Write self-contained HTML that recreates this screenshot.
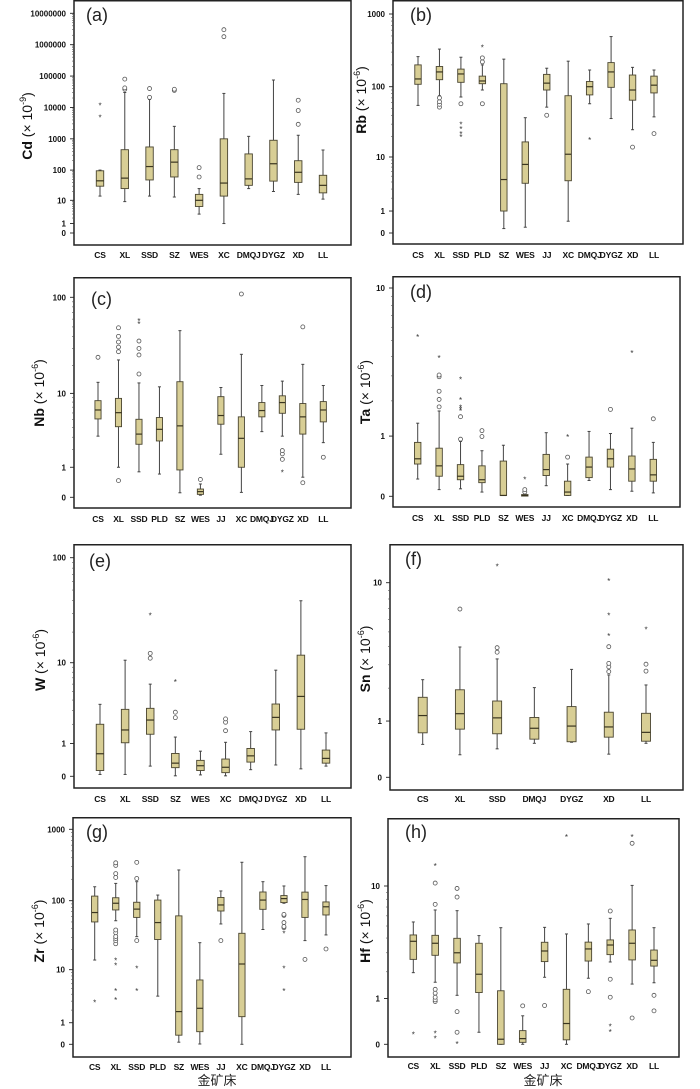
<!DOCTYPE html>
<html><head><meta charset="utf-8"><style>
html,body{margin:0;padding:0;background:#fff;}
svg{display:block;}
text{font-family:"Liberation Sans","Noto Sans CJK SC",sans-serif;}
</style></head><body>
<svg id="chart" width="700" height="1089" viewBox="0 0 700 1089" xmlns="http://www.w3.org/2000/svg"></svg>
<script>
// ---- data: panel (a) Cd ----
const aCats=["CS","XL","SSD","SZ","WES","XC","DMQJ","DYGZ","XD","LL"];
const aLow=[14,9,14,13,3,1,25,20,16,11];
const aQ1=[30,25,48,60,6,14,32,44,40,18];
const aMed=[45,55,130,180,10,38,52,160,85,32];
const aQ3=[95,450,550,450,16,1000,330,900,200,68];
const aHigh=[100,30000,18000,2500,25,28000,1200,75000,1300,440];
const aCirc=[[],[38000,42000,80000],[21000,40000],[35000,38000],[60,120],[1800000,3000000],[],[],[2900,8000,17000],[]];
const aStar=[[5000,12000],[],[],[],[],[],[],[],[],[]];
// ---- panel (b) Rb ----
const bCats=["CS","XL","SSD","PLD","SZ","WES","JJ","XC","DMQJ","DYGZ","XD","LL"];
const bLow=[55,75,72,90,0.15,0.2,52,0.45,58,36,25,38];
const bQ1=[108,125,115,110,1,3.8,90,4.2,77,98,65,82];
const bMed=[128,160,150,120,4.4,7.7,112,11,100,160,90,105];
const bQ3=[200,190,175,140,110,16.7,148,75,118,215,145,140];
const bHigh=[260,330,255,200,240,37,180,225,170,490,185,170];
const bCirc=[[],[52,57,62,70],[58],[58,220,250],[],[],[40],[],[],[],[14],[22]];
const bStar=[[],[],[20,22,26,30],[350],[],[],[],[],[18],[],[],[]];
// ---- panel (c) Nb ----
const cCats=["CS","XL","SSD","PLD","SZ","WES","JJ","XC","DMQJ","DYGZ","XD","LL"];
const cLow=[3.1,1.0,0.8,0.71,0.11,0.05,1.7,0.12,3.55,3.1,0.59,2.53];
const cQ1=[5.1,4.1,2.4,2.67,0.88,0.07,4.4,1.0,5.4,5.95,3.3,4.7];
const cMed=[6.5,6.05,3.3,3.8,4.2,0.14,5.6,2.9,6.4,7.9,5.4,6.5];
const cQ3=[8.3,8.8,5.05,5.3,13.4,0.21,9.2,5.4,7.9,9.4,7.7,8.1];
const cHigh=[13.2,22.8,13,11.8,45.8,0.36,11.6,26.1,12.2,13.6,20.5,12.2];
const cCirc=[[24.3],[0.47,27.8,31,35,40,49],[16.2,25.7,30,35.8],[],[],[0.51],[],[108],[],[1.4,1.72,1.94],[0.4,50],[1.52]];
const cStar=[[],[],[54,58],[],[],[],[],[],[],[0.8],[],[]];
// ---- panel (d) Ta ----
const dCats=["CS","XL","SSD","PLD","SZ","WES","JJ","XC","DMQJ","DYGZ","XD","LL"];
const dLow=[0.22,0.08,0.09,0.05,0.01,0.005,0.13,0.01,0.2,0.08,0.06,0.04];
const dQ1=[0.45,0.26,0.21,0.17,0.01,0.01,0.27,0.01,0.24,0.4,0.19,0.19];
const dMed=[0.54,0.42,0.26,0.21,0.01,0.01,0.36,0.05,0.4,0.54,0.37,0.28];
const dQ3=[0.86,0.74,0.44,0.42,0.5,0.02,0.62,0.19,0.57,0.72,0.59,0.53];
const dHigh=[1.32,1.67,0.88,0.69,0.8,0.03,1.08,0.45,1.11,1.06,1.19,0.86];
const dCirc=[[],[1.8,2.05,2.35,2.96,3.04],[0.93,1.5],[0.99,1.13],[],[0.05,0.08],[],[0.57],[],[1.72],[],[1.44]];
const dStar=[[5.3],[3.95],[1.68,1.73,1.8,2.05,2.86],[],[],[0.22],[],[0.99],[],[],[4.23],[]];
// ---- panel (e) W ----
const eCats=["CS","XL","SSD","SZ","WES","XC","DMQJ","DYGZ","XD","LL"];
const eLow=[0.04,0.04,0.24,0.01,0.03,0.01,0.15,0.27,0.17,0.24];
const eQ1=[0.13,1.03,1.43,0.2,0.13,0.08,0.35,1.66,1.7,0.32];
const eMed=[0.61,1.66,2.28,0.32,0.25,0.21,0.54,2.47,4.4,0.46];
const eQ3=[2.0,3.11,3.2,0.62,0.4,0.44,0.8,3.6,11.9,0.74];
const eHigh=[3.57,10.6,6.0,1.29,0.7,1.05,1.57,8.4,39.7,1.5];
const eCirc=[[],[],[11.1,12.4],[2.45,2.87],[],[1.62,2.13,2.36],[],[],[],[]];
const eStar=[[],[],[29],[6.4],[],[],[],[],[],[]];
// ---- panel (f) Sn ----
const fCats=["CS","XL","SSD","DMQJ","DYGZ","XD","LL"];
const fLow=[0.5,0.32,0.42,0.52,0.54,0.33,0.52];
const fQ1=[0.73,0.81,0.71,0.6,0.55,0.64,0.56];
const fMed=[1.14,1.19,1.08,0.83,0.88,0.86,0.74];
const fQ3=[1.68,1.94,1.56,1.09,1.39,1.23,1.2];
const fHigh=[2.33,3.98,3.3,2.02,2.78,2.53,2.12];
const fCirc=[[],[6.95],[3.67,3.94],[],[],[2.68,2.9,3.07,4.0],[2.7,3.03]];
const fStar=[[],[],[12.5],[],[],[4.73,6.39,10.3],[5.2]];
// ---- panel (g) Zr ----
const gCats=["CS","XL","SSD","PLD","SZ","WES","JJ","XC","DMQJ","DYGZ","XD","LL"];
const gLow=[14,52,30.8,3.7,0.07,0.01,46.8,0,39,92,27,32.6];
const gQ1=[50,74,58,28,0.34,0.5,71.5,1.43,75.5,94,58,62.8];
const gMed=[68,92,76,49,1.86,2.18,87,12.2,102,107,104,82];
const gQ3=[116,110,95,102,61,6.9,111,34.4,132.5,118,132,96];
const gHigh=[157,175,185,120,270,25.2,137,346,185,161,414,163];
const gCirc=[[],[24.3,27,29,31,35,38.4,212,240,313,340],[27,205,345],[],[],[],[27],[],[],[41.5,43,49,62,64],[14.3],[20.4]];
const gStar=[[2.9],[3.2,4.6,11.8,14],[4.6,10.7],[],[],[],[],[],[],[4.6,10.6,35],[],[]];
// ---- panel (h) Hf ----
const hCats=["CS","XL","SSD","PLD","SZ","WES","JJ","XC","DMQJ","DYGZ","XD","LL"];
const hLow=[1.96,1.56,1.1,0.2,0,0,1.76,0,1.72,2.48,1.49,1.54];
const hQ1=[2.62,2.85,2.43,1.19,0,0.03,2.5,0.07,2.53,2.89,2.59,2.27];
const hMed=[3.76,3.62,3.0,1.89,0.08,0.09,3.11,0.37,3.24,3.5,3.62,2.57];
const hQ3=[4.24,4.21,3.98,3.62,1.25,0.23,3.69,1.3,3.7,3.86,4.65,3.17];
const hHigh=[5.38,6.65,6.57,4.19,4.85,0.54,4.88,4.32,5.19,5.74,10.1,4.85];
const hCirc=[[],[0.91,0.96,1.04,1.17,1.3,7.33,10.5],[0.2,0.64,8.3,9.6],[],[],[0.79],[0.8],[],[1.22],[1.04,1.68,6.53],[0.49,20],[0.66,1.1]];
const hStar=[[0.17],[0.1,0.19,14],[0.01],[],[],[],[],[22.2],[],[0.21,0.32],[22.2],[]];
// tick values
const aTicks=[0,1,10,100,1000,10000,100000,1000000,10000000];
const bTicks=[0,1,10,100,1000];
const cTicks=[0,1,10,100];
const dTicks=[0,1,10];
const eTicks=[0,1,10,100];
const fTicks=[0,1,10];
const gTicks=[0,1,10,100,1000];
const hTicks=[0,1,10];

// ---- layout (not data) ----
const panels=[
 {id:"a",el:"Cd",ex:"-9",L:74,R:351,T:0,B:245,z:233,tv:1e7,tp:13.3,c0:100,c1:323,tx:32,ty:126,lx:86,ly:21,xl:258,cats:aCats,low:aLow,q1:aQ1,med:aMed,q3:aQ3,high:aHigh,circ:aCirc,star:aStar,ticks:aTicks},
 {id:"b",el:"Rb",ex:"-6",L:393,R:683,T:0,B:244,z:233,tv:1000,tp:14,c0:418,c1:654,tx:366,ty:100,lx:410,ly:21,xl:258,cats:bCats,low:bLow,q1:bQ1,med:bMed,q3:bQ3,high:bHigh,circ:bCirc,star:bStar,ticks:bTicks},
 {id:"c",el:"Nb",ex:"-6",L:74,R:351,T:277,B:508,z:497.3,tv:100,tp:297.3,c0:98,c1:323.3,tx:44,ty:393,lx:91,ly:305,xl:522,cats:cCats,low:cLow,q1:cQ1,med:cMed,q3:cQ3,high:cHigh,circ:cCirc,star:cStar,ticks:cTicks},
 {id:"d",el:"Ta",ex:"-6",L:393,R:680,T:276,B:507,z:496.3,tv:10,tp:288,c0:417.7,c1:653.3,tx:370,ty:392,lx:410,ly:298,xl:521,cats:dCats,low:dLow,q1:dQ1,med:dMed,q3:dQ3,high:dHigh,circ:dCirc,star:dStar,ticks:dTicks},
 {id:"e",el:"W",ex:"-6",L:74,R:351,T:544,B:788,z:776.3,tv:100,tp:557.7,c0:100,c1:326,tx:45,ty:660,lx:89,ly:567,xl:802,cats:eCats,low:eLow,q1:eQ1,med:eMed,q3:eQ3,high:eHigh,circ:eCirc,star:eStar,ticks:eTicks},
 {id:"f",el:"Sn",ex:"-6",L:390,R:683,T:544,B:790,z:777.3,tv:10,tp:582.7,c0:422.7,c1:646,tx:370,ty:659,lx:405,ly:565,xl:802,cats:fCats,low:fLow,q1:fQ1,med:fMed,q3:fQ3,high:fHigh,circ:fCirc,star:fStar,ticks:fTicks},
 {id:"g",el:"Zr",ex:"-6",L:73,R:351,T:817,B:1057,z:1044.3,tv:1000,tp:829.3,c0:94.7,c1:326,tx:44,ty:931,lx:86,ly:838,xl:1070,xt:217,cats:gCats,low:gLow,q1:gQ1,med:gMed,q3:gQ3,high:gHigh,circ:gCirc,star:gStar,ticks:gTicks},
 {id:"h",el:"Hf",ex:"-6",L:388,R:679,T:818,B:1057,z:1044.3,tv:10,tp:886,c0:413.3,c1:654,tx:370,ty:931,lx:405,ly:838,xl:1069,xt:543,cats:hCats,low:hLow,q1:hQ1,med:hMed,q3:hQ3,high:hHigh,circ:hCirc,star:hStar,ticks:hTicks}
];
const NS="http://www.w3.org/2000/svg";
const svg=document.getElementById("chart");
function mk(tag,attrs,parent){const e=document.createElementNS(NS,tag);for(const k in attrs)e.setAttribute(k,attrs[k]);(parent||svg).appendChild(e);return e;}
panels.forEach(p=>{
  const g=mk("g",{});
  
  
  const per=(p.z-p.tp)/Math.log10(p.tv+1);
  const y=v=>p.z-Math.log10(Math.max(v,0)+1)*per;
  const n=p.cats.length;
  const x=i=>p.c0+i*(p.c1-p.c0)/(n-1);
  const sp=(p.c1-p.c0)/(n-1);
  const bw=Math.min(9,Math.max(5.5,sp*0.3));
  const fr=mk("rect",{x:p.L,y:p.T+0.75,width:p.R-p.L,height:p.B-p.T-0.75,fill:"none",stroke:"#222","stroke-width":1.5},g);
  
  
  for(let d=0;d<p.ticks.length-1;d++){
    const base=p.ticks[d];
    if(base===0)continue;
    for(let m=2;m<10;m++){const yy=y(base*m);mk("line",{x1:p.L-2,x2:p.L,y1:yy,y2:yy,stroke:"#555","stroke-width":0.6},g);}
  }
  p.ticks.forEach(t=>{
    const yy=y(t);
    const tl=mk("line",{x1:p.L-4,x2:p.L,y1:yy,y2:yy,stroke:"#222","stroke-width":0.9},g);
    
    
    const tt=mk("text",{x:p.L-8,y:yy+3,"text-anchor":"end","font-size":8,"font-weight":"bold",fill:"#111"},g);
    tt.textContent=String(t);
    
    
  });
  const yt=mk("text",{transform:`translate(${p.tx},${p.ty}) rotate(-90)`,"text-anchor":"middle","font-size":14,fill:"#111"},g);
  
  
  const t1=mk("tspan",{"font-weight":"bold"},yt);t1.textContent=p.el+" ";
  const t2=mk("tspan",{},yt);t2.textContent="(× 10";
  const t3=mk("tspan",{"font-size":9,dy:-6},yt);t3.textContent=p.ex;
  const t4=mk("tspan",{dy:6},yt);t4.textContent=")";
  const pl=mk("text",{x:p.lx,y:p.ly,"font-size":18,fill:"#222"},g);
  pl.textContent="("+p.id+")";
  
  
  p.cats.forEach((c,i)=>{
    const cx=x(i);
    const bg=mk("g",{},g);
    
    
    mk("line",{x1:cx,x2:cx,y1:y(p.low[i]),y2:y(p.high[i]),stroke:"#444","stroke-width":1},bg);
    mk("line",{x1:cx-1.5,x2:cx+1.5,y1:y(p.low[i]),y2:y(p.low[i]),stroke:"#444","stroke-width":1},bg);
    mk("line",{x1:cx-1.5,x2:cx+1.5,y1:y(p.high[i]),y2:y(p.high[i]),stroke:"#444","stroke-width":1},bg);
    const top=y(p.q3[i]),bot=y(p.q1[i]);
    mk("rect",{x:cx-bw/2,y:top,width:bw,height:Math.max(1.5,bot-top),fill:"#d8ce95",stroke:"#4a4530","stroke-width":0.9},bg);
    mk("line",{x1:cx-bw/2,x2:cx+bw/2,y1:y(p.med[i]),y2:y(p.med[i]),stroke:"#3a3520","stroke-width":1.2},bg);
    p.circ[i].forEach(v=>{
      const o=mk("circle",{cx:cx,cy:y(v),r:2,fill:"#fff",stroke:"#555","stroke-width":0.8},bg);
      
      
    });
    p.star[i].forEach(v=>{
      const s=mk("text",{x:cx,y:y(v)+3.5,"text-anchor":"middle","font-size":8,fill:"#333"},bg);
      s.textContent="*";
      
      
    });
    const xl=mk("text",{x:cx,y:p.xl,"text-anchor":"middle","font-size":8.5,"font-weight":"bold","letter-spacing":"-0.2",fill:"#111"},g);
    xl.textContent=c;
    
    
  });
  if(p.xt){
    const xt=mk("text",{x:p.xt,y:1085,"text-anchor":"middle","font-size":13,fill:"#222"},g);
    xt.textContent="金矿床";
    
    
  }
});
</script>
</body></html>
